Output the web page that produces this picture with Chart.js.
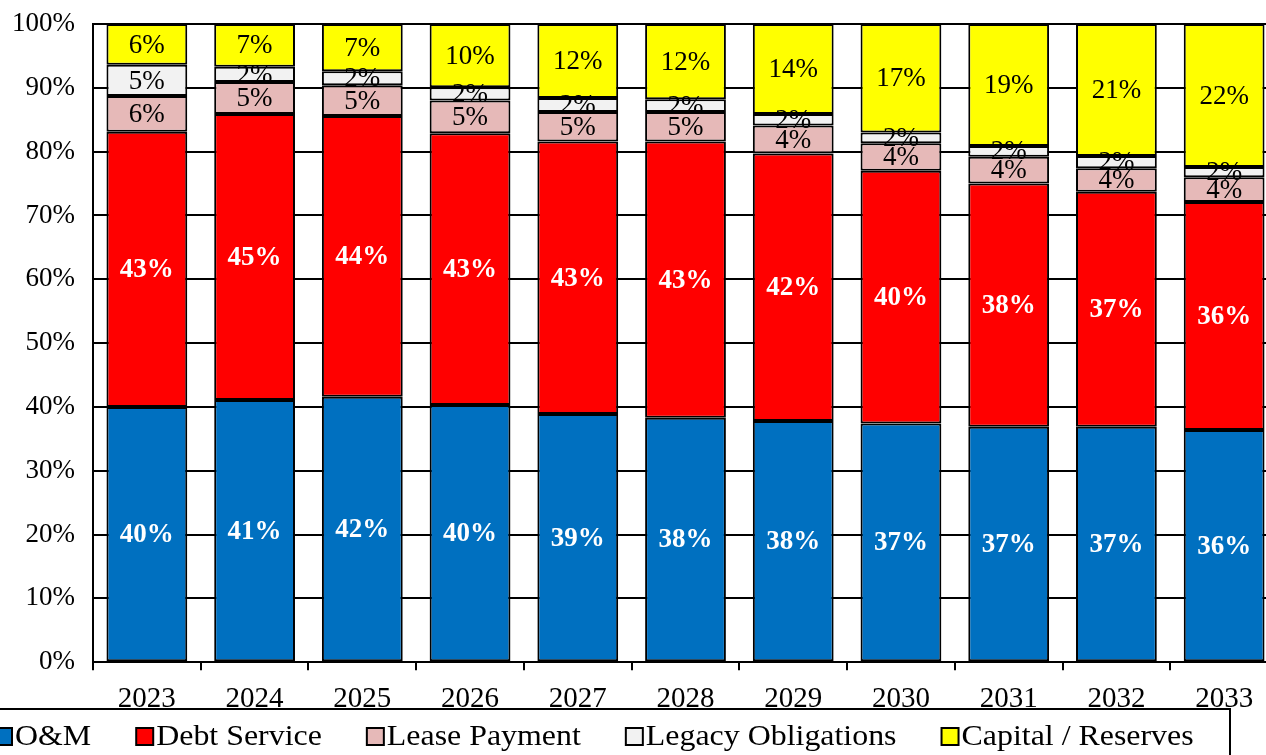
<!DOCTYPE html>
<html>
<head>
<meta charset="utf-8">
<script src="https://cdn.jsdelivr.net/npm/chart.js@4.4.1/dist/chart.umd.min.js"></script>
<style>
  html, body { margin: 0; padding: 0; background: #fff; overflow: hidden; }
  #wrap { position: absolute; left: 0; top: 0; width: 1280px; height: 755px; }
</style>
</head>
<body>
<div id="wrap"><canvas id="costChart" width="1280" height="755"></canvas></div>
<script>
var years = ['2023', '2024', '2025', '2026', '2027', '2028', '2029', '2030', '2031', '2032', '2033'];
var yTicks = ['0%', '10%', '20%', '30%', '40%', '50%', '60%', '70%', '80%', '90%', '100%'];

var om      = [40.0, 41.1, 41.6, 40.3, 38.9, 38.3, 37.8, 37.4, 36.9, 36.9, 36.4];
var debt    = [43.1, 44.8, 44.0, 42.6, 42.7, 43.3, 41.9, 39.6, 38.1, 36.8, 35.7];
var lease   = [5.6, 5.0, 4.8, 5.1, 4.6, 4.6, 4.4, 4.3, 4.2, 3.7, 3.9];
var legacy  = [4.9, 2.4, 2.2, 2.1, 2.2, 2.0, 1.8, 1.7, 1.7, 1.9, 1.6];
var capital = [6.4, 6.7, 7.4, 9.9, 11.6, 11.8, 14.1, 17.0, 19.1, 20.7, 22.4];

var serif = '"Liberation Serif", "Times New Roman", serif';

function series(label, data, color, textColor, bold) {
  return {
    label: label,
    data: data,
    backgroundColor: color,
    borderColor: '#000',
    borderWidth: 2,
    borderSkipped: false,
    barPercentage: 0.75,
    categoryPercentage: 1,
    labelColor: textColor,
    labelBold: bold
  };
}

// numbers inside the bars
var barLabels = {
  id: 'barLabels',
  afterDatasetsDraw: function(chart) {
    var ctx = chart.ctx;
    ctx.save();
    ctx.textAlign = 'center';
    ctx.textBaseline = 'middle';
    chart.data.datasets.forEach(function(ds, i) {
      var meta = chart.getDatasetMeta(i);
      ctx.fillStyle = ds.labelColor;
      ctx.font = (ds.labelBold ? 'bold ' : '') + '27px ' + serif;
      meta.data.forEach(function(bar, j) {
        var yMid = (bar.y + bar.base) / 2;
        ctx.fillText(Math.round(ds.data[j]) + '%', bar.x, yMid + 1);
      });
    });
    ctx.restore();
  }
};

// boxed legend along the bottom (text slightly stretched like the original)
var boxLegend = {
  id: 'boxLegend',
  afterDraw: function(chart) {
    var ctx = chart.ctx;
    var stretch = 1.1;
    ctx.save();
    ctx.setLineDash([]);
    ctx.fillStyle = '#000';
    ctx.fillRect(-10, 708, 1241, 2);
    ctx.fillRect(1229, 708, 2, 60);
    ctx.strokeStyle = '#000';
    ctx.lineWidth = 2;
    ctx.font = '29px ' + serif;
    ctx.textBaseline = 'middle';
    var x = -5;
    var y = 736;
    chart.data.datasets.forEach(function(ds) {
      ctx.fillStyle = ds.backgroundColor;
      ctx.fillRect(x, y - 8, 17, 17);
      ctx.strokeRect(x, y - 8, 17, 17);
      ctx.fillStyle = '#000';
      ctx.save();
      ctx.translate(x + 20, y + 1);
      ctx.scale(stretch, 1);
      ctx.fillText(ds.label, 0, 0);
      ctx.restore();
      x += 20 + ctx.measureText(ds.label).width * stretch + 45;
    });
    ctx.restore();
  }
};

new Chart(document.getElementById('costChart'), {
  type: 'bar',
  data: {
    labels: years,
    datasets: [
      series('O&M', om, '#0070C0', '#fff', true),
      series('Debt Service', debt, '#FF0000', '#fff', true),
      series('Lease Payment', lease, '#E6B9B8', '#000', false),
      series('Legacy Obligations', legacy, '#F2F2F2', '#000', false),
      series('Capital / Reserves', capital, '#FFFF00', '#000', false)
    ]
  },
  options: {
    responsive: false,
    animation: false,
    layout: { padding: { top: 24, right: 2, bottom: 26, left: 0 } },
    plugins: {
      legend: { display: false },
      tooltip: { enabled: false }
    },
    scales: {
      x: {
        stacked: true,
        offset: true,
        grid: {
          offset: true,
          drawOnChartArea: false,
          color: '#000',
          lineWidth: 2,
          tickLength: 8
        },
        border: { color: '#000', width: 2 },
        ticks: { color: '#000', padding: 12, font: { family: serif, size: 29 } }
      },
      y: {
        stacked: true,
        min: 0,
        max: 100,
        afterFit: function(scale) {
          scale.width = 93;
          scale.paddingTop = 0;
          scale.paddingBottom = 0;
        },
        grid: { color: '#000', lineWidth: 2, tickLength: 0 },
        border: { color: '#000', width: 2 },
        ticks: {
          stepSize: 10,
          color: '#000',
          padding: 18,
          font: { family: serif, size: 27 },
          callback: function(v, i) { return yTicks[i]; }
        }
      }
    }
  },
  plugins: [barLabels, boxLegend]
});
</script>
</body>
</html>
